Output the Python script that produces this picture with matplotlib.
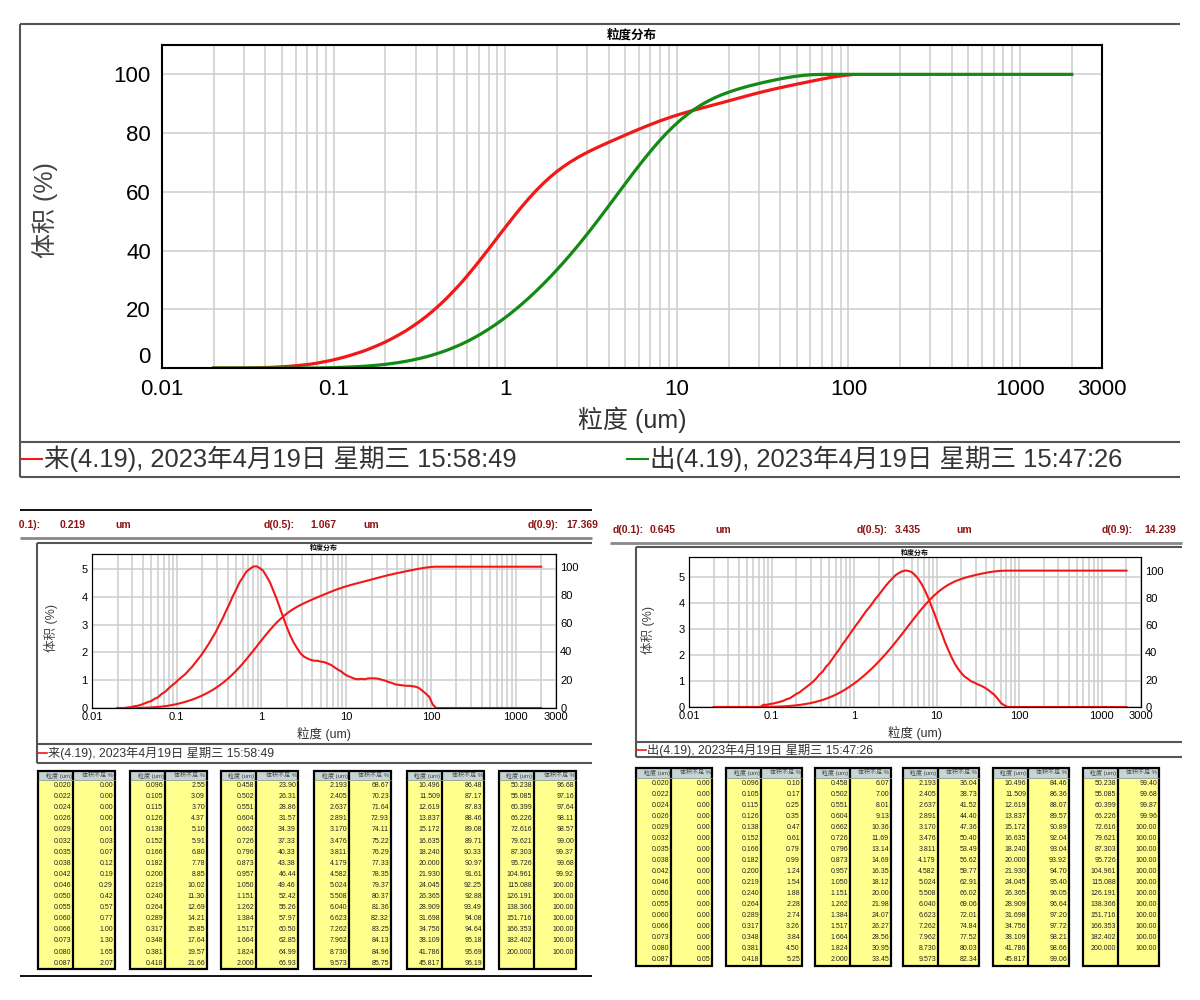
"""
    粒度分布: comparison of inlet (来) and outlet (出) samples
"""

import numpy as np
import matplotlib
matplotlib.use('Agg')
import matplotlib.pyplot as plt
from matplotlib.patches import Rectangle
from matplotlib.ticker import LogLocator, NullFormatter

plt.rcParams['font.family'] = ['Liberation Sans', 'Noto Sans CJK SC']

# particle size grid (um), as listed in the tables
sizes = np.array([
    0.020, 0.022, 0.024, 0.026, 0.029, 0.032, 0.035, 0.038, 0.042, 0.046, 0.050, 0.055, 0.060, 0.066, 0.073, 0.080, 0.087,
    0.096, 0.105, 0.115, 0.126, 0.138, 0.152, 0.166, 0.182, 0.200, 0.219, 0.240, 0.264, 0.289, 0.317, 0.348, 0.381, 0.418,
    0.458, 0.502, 0.551, 0.604, 0.662, 0.726, 0.796, 0.873, 0.957, 1.050, 1.151, 1.262, 1.384, 1.517, 1.664, 1.824, 2.000,
    2.193, 2.405, 2.637, 2.891, 3.170, 3.476, 3.811, 4.179, 4.582, 5.024, 5.508, 6.040, 6.623, 7.262, 7.962, 8.730, 9.573,
    10.496, 11.509, 12.619, 13.837, 15.172, 16.635, 18.240, 20.000, 21.930, 24.045, 26.365, 28.909, 31.698, 34.756, 38.109, 41.786, 45.817,
    50.238, 55.085, 60.399, 66.226, 72.616, 79.621, 87.303, 95.726, 104.961, 115.088, 126.191, 138.366, 151.716, 166.353, 182.402, 200.000,
])

# cumulative volume undersize (%) - 来 (inlet)
cum_in = np.array([
    0.00, 0.00, 0.00, 0.00, 0.01, 0.03, 0.07, 0.12, 0.19, 0.29, 0.42, 0.57, 0.77, 1.00, 1.30, 1.65, 2.07,
    2.55, 3.09, 3.70, 4.37, 5.10, 5.91, 6.80, 7.78, 8.85, 10.02, 11.30, 12.69, 14.21, 15.85, 17.64, 19.57, 21.66,
    23.90, 26.31, 28.86, 31.57, 34.39, 37.33, 40.33, 43.38, 46.44, 49.46, 52.42, 55.26, 57.97, 60.50, 62.85, 64.99, 66.93,
    68.67, 70.23, 71.64, 72.93, 74.11, 75.22, 76.29, 77.33, 78.35, 79.37, 80.37, 81.36, 82.32, 83.25, 84.13, 84.96, 85.75,
    86.48, 87.17, 87.83, 88.46, 89.08, 89.71, 90.33, 90.97, 91.61, 92.25, 92.88, 93.49, 94.08, 94.64, 95.18, 95.69, 96.19,
    96.68, 97.16, 97.64, 98.11, 98.57, 99.00, 99.37, 99.68, 99.92, 100.00, 100.00, 100.00, 100.00, 100.00, 100.00, 100.00,
])

# cumulative volume undersize (%) - 出 (outlet)
cum_out = np.array([
    0.00, 0.00, 0.00, 0.00, 0.00, 0.00, 0.00, 0.00, 0.00, 0.00, 0.00, 0.00, 0.00, 0.00, 0.00, 0.00, 0.05,
    0.10, 0.17, 0.25, 0.35, 0.47, 0.61, 0.79, 0.99, 1.24, 1.54, 1.88, 2.28, 2.74, 3.26, 3.84, 4.50, 5.25,
    6.07, 7.00, 8.01, 9.13, 10.36, 11.69, 13.14, 14.69, 16.35, 18.12, 20.00, 21.98, 24.07, 26.27, 28.56, 30.95, 33.45,
    36.04, 38.73, 41.52, 44.40, 47.36, 50.40, 53.49, 56.62, 59.77, 62.91, 66.02, 69.06, 72.01, 74.84, 77.52, 80.03, 82.34,
    84.46, 86.36, 88.07, 89.57, 90.89, 92.04, 93.04, 93.92, 94.70, 95.40, 96.05, 96.64, 97.20, 97.72, 98.21, 98.66, 99.06,
    99.40, 99.68, 99.87, 99.96, 100.00, 100.00, 100.00, 100.00, 100.00, 100.00, 100.00, 100.00, 100.00, 100.00, 100.00, 100.00,
])

END_SIZE = 2000.0      # curves run flat out to here
RED_TOP_LIMIT = 105.0  # inlet curve on the overlay stops near 100 um
FREQ_SCALE = 5.0 / 3.0 # bin increment -> plotted frequency (%)

label_in = '来(4.19), 2023年4月19日 星期三 15:58:49'
label_out = '出(4.19), 2023年4月19日 星期三 15:47:26'
d_labels = ['d(0.1):', 'd(0.5):', 'd(0.9):']
d_in = ['0.219', '1.067', '17.369']
d_out = ['0.645', '3.435', '14.239']

x_ticks = [0.01, 0.1, 1, 10, 100, 1000, 3000]
x_tick_labels = ['0.01', '0.1', '1', '10', '100', '1000', '3000']
pct_ticks = [0, 20, 40, 60, 80, 100]
freq_ticks = [0, 1, 2, 3, 4, 5]

RED = '#f21818'
GREEN = '#138a13'
GRID = '#cdcdcd'
DARKRED = '#8c1414'
HEAD_BG = '#c6d4d4'
CELL_BG = '#ffff8e'

W, H = 1200, 1000
fig = plt.figure(figsize=(12, 10), dpi=100)
bg = fig.add_axes([0, 0, 1, 1])
bg.set_xlim(0, W)
bg.set_ylim(H, 0)
bg.axis('off')


def px_axes(x0, y0, x1, y1):
    return fig.add_axes([x0 / W, 1 - y1 / H, (x1 - x0) / W, (y1 - y0) / H])


def style_log_axes(ax, size, pad):
    ax.set_xscale('log')
    ax.set_xlim(0.01, 3000)
    ax.set_xticks(x_ticks)
    ax.set_xticklabels(x_tick_labels)
    ax.xaxis.set_minor_locator(LogLocator(base=10, subs=np.arange(2, 10), numticks=20))
    ax.xaxis.set_minor_formatter(NullFormatter())
    ax.grid(True, which='both', axis='x', color=GRID, lw=1.1)
    ax.grid(True, which='major', axis='y', color=GRID, lw=1.1)
    ax.set_axisbelow(True)
    ax.tick_params(which='both', length=0, labelsize=size, pad=pad)


def hline(y, x0, x1, color='#555555', lw=1.5):
    bg.plot([x0, x1], [y, y], color=color, lw=lw, solid_capstyle='butt')


def vline(x, y0, y1, color='#555555', lw=1.5):
    bg.plot([x, x], [y0, y1], color=color, lw=lw, solid_capstyle='butt')


# ---------------- top overlay chart ----------------
hline(24, 20, 1180)
hline(442, 20, 1180)
hline(477, 20, 1180)
vline(20, 24, 477)

ax = px_axes(162, 45, 1102, 368)
style_log_axes(ax, 16, 8)
ax.set_ylim(0, 110)
ax.set_yticks(pct_ticks)
red_mask = sizes <= RED_TOP_LIMIT
ax.plot(sizes[red_mask], cum_in[red_mask], color=RED, lw=2.3)
ax.plot(np.append(sizes, END_SIZE), np.append(cum_out, 100.0), color=GREEN, lw=2.3)
for s in ax.spines.values():
    s.set_linewidth(1.5)
# the "0" of the y axis sits just above the "0.01" of the x axis
ax.get_yticklabels()[0].set_verticalalignment('bottom')
bg.text(632, 35, '粒度分布', ha='center', va='center', fontsize=9, fontweight='bold')
bg.text(632, 420, '粒度 (um)', ha='center', va='center', fontsize=18, color='#333333')
bg.text(45, 210, '体积 (%)', ha='center', va='center', rotation=90, fontsize=18, color='#444444')

bg.plot([22, 42], [459, 459], color=RED, lw=1.5)
bg.text(44, 459, label_in, ha='left', va='center', fontsize=18.4, color='#333333')
bg.plot([627, 648], [459, 459], color=GREEN, lw=1.5)
bg.text(650, 459, label_out, ha='left', va='center', fontsize=18.4, color='#333333')


# ---------------- small panels ----------------
def small_chart(box, cum, flim, plim, color):
    a = px_axes(*box)
    style_log_axes(a, 8, 3)
    a.set_ylim(0, flim)
    a.set_yticks(freq_ticks)
    freq = np.diff(cum) * FREQ_SCALE
    a.plot(np.append(sizes[:-1], END_SIZE), np.append(freq, 0.0), color=color, lw=1.5)
    a2 = a.twinx()
    a2.set_ylim(0, plim)
    a2.set_yticks(pct_ticks)
    a2.tick_params(length=0, labelsize=8, pad=3)
    a2.plot(np.append(sizes, END_SIZE), np.append(cum, 100.0), color=color, lw=1.5)
    return a


def draw_header(hax, xs, y, values):
    items = [(d_labels[0], xs[0], 'right'), (values[0], xs[1], 'left'), ('um', xs[2], 'left'),
             (d_labels[1], xs[3], 'left'), (values[1], xs[4], 'left'), ('um', xs[5], 'left'),
             (d_labels[2], xs[6], 'left'), (values[2], xs[7], 'left')]
    for txt, x, ha in items:
        hax.text(x, y, txt, ha=ha, va='center', fontsize=7.5, fontweight='bold',
                 color=DARKRED, clip_on=True)


def draw_table(x_starts, width, split, top, head_h, row_h, cum):
    n_rows = 17
    for g, x0 in enumerate(x_starts):
        s = sizes[g * n_rows:(g + 1) * n_rows]
        c = cum[g * n_rows:(g + 1) * n_rows]
        data_top = top + head_h
        bg.add_patch(Rectangle((x0, top), width, head_h, fc=HEAD_BG, ec='none'))
        bg.add_patch(Rectangle((x0, data_top), width, n_rows * row_h, fc=CELL_BG, ec='none'))
        bg.add_patch(Rectangle((x0, top), width, head_h + n_rows * row_h, fc='none', ec='black', lw=1.6))
        vline(x0 + split, top, data_top + n_rows * row_h, color='black', lw=1.6)
        hline(data_top, x0, x0 + width, color='#8a9a9a', lw=0.6)
        bg.text(x0 + split - 1.5, top + head_h / 2, '粒度 (um)', ha='right', va='center',
                fontsize=4.3, color='#444444')
        bg.text(x0 + width - 1.5, top + head_h / 2, '体积不足 %', ha='right', va='center',
                fontsize=4.3, color='#444444')
        for i in range(len(s)):
            yc = data_top + (i + 0.5) * row_h
            bg.text(x0 + split - 2, yc, f'{s[i]:.3f}', ha='right', va='center', fontsize=5, color='#222222')
            bg.text(x0 + width - 2, yc, f'{c[i]:.2f}', ha='right', va='center', fontsize=5, color='#222222')


# left panel (来)
hline(510, 20, 592, color='black', lw=1.3)
hline(538, 20, 592, color='#888888', lw=2)
hax = px_axes(19, 512, 600, 536)
hax.set_xlim(19, 600)
hax.set_ylim(536, 512)
hax.axis('off')
draw_header(hax, [41, 60, 115, 264, 310, 363, 528, 566], 525, d_in)

hline(543, 37, 592)
vline(37, 543, 763)
hline(744, 37, 592)
hline(763, 37, 592)
small_chart((92, 554, 556, 708), cum_in, 5.54, 109, RED)
bg.text(324, 548, '粒度分布', ha='center', va='center', fontsize=5, fontweight='bold')
bg.text(324, 734, '粒度 (um)', ha='center', va='center', fontsize=9, color='#333333')
bg.text(51, 628, '体积 (%)', ha='center', va='center', rotation=90, fontsize=9, color='#444444')
bg.plot([38, 47], [753, 753], color=RED, lw=1.2)
bg.text(48, 753, label_in, ha='left', va='center', fontsize=8.8, color='#333333')

draw_table([38, 130, 221, 314, 407, 499], 77, 35, 771, 9, 11.1, cum_in)
hline(976, 20, 592, color='black', lw=1.3)

# right panel (出)
hline(543, 610, 1182, color='#888888', lw=2)
draw_header(bg, [644, 650, 715, 857, 895, 956, 1102, 1144], 530, d_out)

hline(547, 636, 1182)
vline(636, 547, 757)
hline(742, 636, 1182)
hline(757, 636, 1182)
small_chart((689, 557, 1141, 707), cum_out, 5.77, 110, RED)
bg.text(915, 553, '粒度分布', ha='center', va='center', fontsize=5, fontweight='bold')
bg.text(915, 733, '粒度 (um)', ha='center', va='center', fontsize=9, color='#333333')
bg.text(648, 630, '体积 (%)', ha='center', va='center', rotation=90, fontsize=9, color='#444444')
bg.plot([637, 646], [750, 750], color=RED, lw=1.2)
bg.text(647, 750, label_out, ha='left', va='center', fontsize=8.8, color='#333333')

draw_table([636, 726, 815, 903, 993, 1083], 76, 35, 768, 9.5, 11.06, cum_out)

fig.savefig('out.png', dpi=100)
